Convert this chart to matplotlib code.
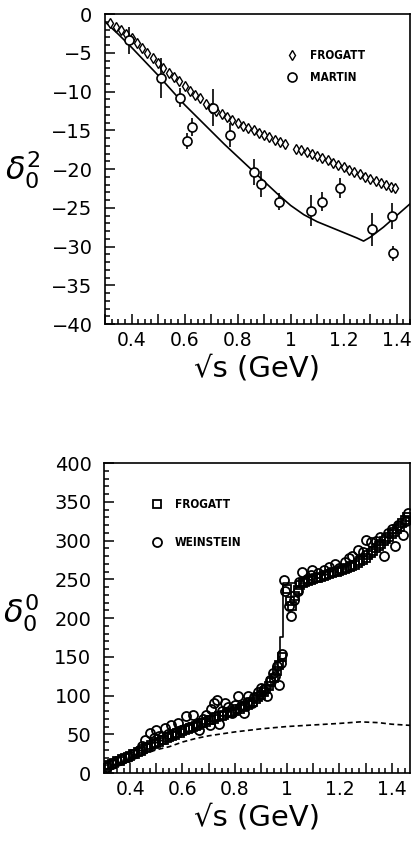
import matplotlib
matplotlib.use('Agg')
import matplotlib.pyplot as plt
from matplotlib.ticker import MultipleLocator, FuncFormatter

# ---------------------------------------------------------------------------
# Top panel: I=2 S-wave phase shift
# ---------------------------------------------------------------------------
frog2_x = [0.32, 0.34, 0.36, 0.38, 0.40, 0.42, 0.44, 0.46, 0.48, 0.50,
           0.52, 0.54, 0.56, 0.58, 0.60, 0.62, 0.64, 0.66, 0.68, 0.70,
           0.72, 0.74, 0.76, 0.78, 0.80, 0.82, 0.84, 0.86, 0.88, 0.90,
           0.92, 0.94, 0.96, 0.98,
           1.02, 1.04, 1.06, 1.08, 1.10, 1.12, 1.14, 1.16, 1.18, 1.20,
           1.22, 1.24, 1.26, 1.28, 1.30, 1.32, 1.34, 1.36, 1.38, 1.395]
frog2_y = [-1.1, -1.7, -2.1, -2.6, -3.1, -3.7, -4.4, -5.0, -5.7, -6.3,
           -7.0, -7.6, -8.1, -8.7, -9.3, -9.9, -10.4, -10.9, -11.6, -12.1,
           -12.5, -12.9, -13.3, -13.7, -14.1, -14.4, -14.7, -15.0, -15.3, -15.6,
           -15.9, -16.2, -16.5, -16.8,
           -17.4, -17.6, -17.8, -18.0, -18.3, -18.6, -18.9, -19.2, -19.5, -19.8,
           -20.1, -20.4, -20.7, -21.0, -21.3, -21.6, -21.8, -22.0, -22.3, -22.4]

martin_x = [0.391, 0.512, 0.581, 0.610, 0.628, 0.707, 0.770, 0.860,
            0.887, 0.957, 1.077, 1.118, 1.186, 1.308, 1.384, 1.386]
martin_y = [-3.4, -8.3, -10.8, -16.4, -14.6, -12.1, -15.6, -20.4,
            -21.9, -24.2, -25.4, -24.2, -22.5, -27.8, -26.1, -30.9]
martin_err = [1.7, 2.6, 1.2, 1.0, 1.2, 2.4, 1.6, 1.7,
              1.7, 1.1, 2.0, 1.2, 1.3, 2.1, 1.7, 1.0]

fit2_x = [0.30, 0.35, 0.40, 0.45, 0.50, 0.55, 0.60, 0.65, 0.70, 0.75,
          0.80, 0.85, 0.90, 0.95, 1.00, 1.05, 1.10, 1.15, 1.20, 1.25,
          1.275, 1.30, 1.35, 1.40, 1.45]
fit2_y = [-1.0, -2.6, -4.3, -6.1, -7.9, -9.8, -11.7, -13.4, -15.1, -16.8,
          -18.4, -20.0, -21.6, -23.2, -24.7, -25.9, -26.8, -27.5, -28.2, -28.9,
          -29.3, -28.8, -27.5, -26.0, -24.5]

# ---------------------------------------------------------------------------
# Bottom panel: I=0 S-wave phase shift
# ---------------------------------------------------------------------------
frog0_x = [0.31, 0.32, 0.33, 0.34, 0.35, 0.36, 0.37, 0.38, 0.39, 0.40,
           0.41, 0.42, 0.43, 0.44, 0.45, 0.46, 0.47, 0.48, 0.49, 0.50,
           0.51, 0.52, 0.53, 0.54, 0.55, 0.56, 0.57, 0.58, 0.59, 0.60,
           0.61, 0.62, 0.63, 0.64, 0.65, 0.66, 0.67, 0.68, 0.69, 0.70,
           0.71, 0.72, 0.73, 0.74, 0.75, 0.76, 0.77, 0.78, 0.79, 0.80,
           0.81, 0.82, 0.83, 0.84, 0.85, 0.86, 0.87, 0.88, 0.89, 0.90,
           0.91, 0.92, 0.93, 0.94, 0.95, 0.96, 0.97, 0.98,
           1.00, 1.01, 1.02, 1.03, 1.04, 1.05, 1.06, 1.07, 1.08, 1.09,
           1.10, 1.11, 1.12, 1.13, 1.14, 1.15, 1.16, 1.17, 1.18, 1.19,
           1.20, 1.21, 1.22, 1.23, 1.24, 1.25, 1.26, 1.27, 1.28, 1.29,
           1.30, 1.31, 1.32, 1.33, 1.34, 1.35, 1.36, 1.37, 1.38, 1.39,
           1.40, 1.41, 1.42, 1.43, 1.44, 1.45, 1.46]
frog0_y = [9, 10, 12, 13, 15, 16, 18, 19, 21, 22,
           24, 25, 27, 29, 31, 32, 34, 36, 37, 39,
           40, 42, 43, 45, 46, 48, 49, 51, 52, 54,
           55, 57, 58, 60, 61, 62, 64, 65, 66, 68,
           69, 70, 72, 73, 74, 75, 77, 78, 79, 80,
           82, 83, 85, 86, 88, 90, 92, 95, 98, 101,
           104, 108, 112, 117, 123, 131, 140, 150,
           238, 222, 215, 228, 236, 242, 245, 247, 248, 249,
           250, 251, 252, 253, 254, 255, 257, 258, 259, 260,
           261, 262, 263, 264, 266, 267, 269, 271, 273, 275,
           278, 281, 284, 287, 290, 293, 296, 299, 302, 305,
           308, 311, 315, 318, 322, 326, 330]

wein_x = [0.31, 0.33, 0.35, 0.37, 0.39, 0.41, 0.43, 0.445, 0.458, 0.476,
          0.49, 0.498, 0.51, 0.533, 0.545, 0.558, 0.57, 0.583, 0.595, 0.614,
          0.625, 0.639, 0.65, 0.664, 0.677, 0.69, 0.705, 0.71, 0.72, 0.733,
          0.74, 0.75, 0.761, 0.775, 0.79, 0.80, 0.811, 0.822, 0.834, 0.845,
          0.852, 0.865, 0.875, 0.89, 0.90, 0.909, 0.924, 0.935, 0.946, 0.955,
          0.962, 0.969, 0.978, 0.982, 0.99, 0.993, 1.009, 1.015, 1.028, 1.04,
          1.047, 1.059, 1.075, 1.09, 1.097, 1.12, 1.14, 1.16, 1.184, 1.20,
          1.22, 1.235, 1.25, 1.272, 1.29, 1.302, 1.32, 1.34, 1.355, 1.372,
          1.385, 1.40, 1.414, 1.425, 1.445, 1.455, 1.462]
wein_y = [8, 12, 16, 18, 21, 24, 28, 35, 43, 51,
          45, 55, 48, 58, 50, 62, 52, 64, 55, 73,
          60, 75, 62, 56, 70, 75, 62, 82, 90, 94,
          63, 80, 90, 85, 78, 88, 99, 86, 77, 92,
          99, 90, 98, 105, 110, 107, 100, 120, 129, 125,
          138, 114, 142, 153, 249, 235, 216, 203, 223, 235,
          247, 260, 250, 255, 262, 258, 262, 266, 270, 265,
          272, 277, 280, 288, 285, 301, 298, 300, 305, 280,
          310, 315, 293, 320, 307, 325, 335]

# stepped fit line through the K-Kbar threshold
fit0_x = [0.90, 0.92, 0.94, 0.955, 0.965, 0.972, 0.986, 1.036, 1.05, 1.08]
fit0_y = [101, 108, 117, 128, 150, 175, 245, 240, 245, 248]

dash0_x = [0.30, 0.35, 0.40, 0.45, 0.50, 0.55, 0.60, 0.65, 0.70, 0.80,
           0.90, 1.00, 1.10, 1.20, 1.28, 1.35, 1.40, 1.47]
dash0_y = [4, 11, 18, 24, 30, 34, 40, 44.5, 48, 53,
           57, 60, 62, 64, 66, 65, 63, 61.5]

LEG_PROP = {'family': 'DejaVu Sans', 'stretch': 'condensed',
            'weight': 'bold', 'size': 8.5}


def style_axes(ax, ylo, yhi, ymaj, ymin, xhi):
    ax.set_xlim(0.3, xhi)
    ax.set_ylim(ylo, yhi)
    ax.xaxis.set_major_locator(MultipleLocator(0.1))
    ax.xaxis.set_minor_locator(MultipleLocator(0.025))
    ax.xaxis.set_major_formatter(FuncFormatter(
        lambda v, p: ('%g' % round(v, 1)) if round(v * 10) % 2 == 0 else ''))
    ax.yaxis.set_major_locator(MultipleLocator(ymaj))
    ax.yaxis.set_minor_locator(MultipleLocator(ymin))
    ax.tick_params(which='both', direction='in', top=False, right=False,
                   width=1.1)
    ax.tick_params(which='major', length=7)
    ax.tick_params(which='minor', length=3.5)
    ax.tick_params(axis='y', labelsize=14, pad=9)
    ax.tick_params(axis='x', labelsize=13.5, pad=5)
    for s in ax.spines.values():
        s.set_linewidth(1.2)
    ax.set_xlabel('√s (GeV)', fontsize=21, labelpad=3)


fig = plt.figure(figsize=(4.14, 8.44), dpi=100)

# ---- top ----
ax1 = fig.add_axes([0.2536, 0.6161, 0.7367, 0.3673])
ax1.plot(fit2_x, fit2_y, '-', color='black', lw=1.2, zorder=2)
ax1.plot(frog2_x, frog2_y, 'd', ms=5, mfc='white', mec='black', mew=1.0,
         color='black', label='FROGATT', zorder=3)
ax1.errorbar(martin_x, martin_y, yerr=martin_err, fmt='none', ecolor='black',
             elinewidth=1.2, capsize=0, zorder=4)
ax1.plot(martin_x, martin_y, 'o', ms=6.5, mfc='white', mec='black', mew=1.2,
         color='black', label='MARTIN', zorder=5)
style_axes(ax1, -40, 0, 5, 1, 1.45)
ax1.set_ylabel(r'$\delta_0^2$', fontsize=23, rotation=0)
ax1.yaxis.set_label_coords(-0.27, 0.43)
ax1.legend(loc='upper left', bbox_to_anchor=(0.573, 0.905),
           frameon=False, borderpad=0, handlelength=1.0,
           handletextpad=1.1, labelspacing=0.72, prop=LEG_PROP)

# ---- bottom ----
ax2 = fig.add_axes([0.2512, 0.0841, 0.7391, 0.3673])
ax2.plot(dash0_x, dash0_y, '--', color='black', lw=1.2, dashes=(3, 2),
         zorder=2)
ax2.plot(fit0_x, fit0_y, '-', color='black', lw=1.2, drawstyle='steps-post',
         zorder=2)
ax2.plot(frog0_x, frog0_y, 's', ms=5.5, mfc='none', mec='black', mew=1.3,
         color='black', label='FROGATT', zorder=3)
ax2.plot(wein_x, wein_y, 'o', ms=6.5, mfc='none', mec='black', mew=1.3,
         color='black', label='WEINSTEIN', zorder=4)
style_axes(ax2, 0, 400, 50, 10, 1.47)
ax2.set_ylabel(r'$\delta_0^0$', fontsize=23, rotation=0)
ax2.yaxis.set_label_coords(-0.27, 0.45)
ax2.legend(loc='upper left', bbox_to_anchor=(0.134, 0.905),
           frameon=False, borderpad=0, handlelength=1.0,
           handletextpad=1.0, labelspacing=2.1, prop=LEG_PROP)

fig.savefig('out.png', dpi=100)
